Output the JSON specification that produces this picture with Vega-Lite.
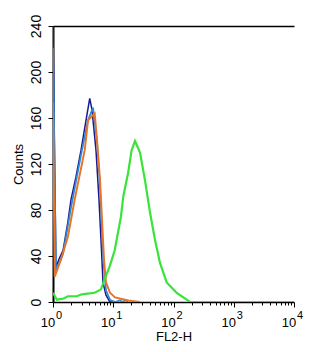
{
  "$schema": "https://vega.github.io/schema/vega-lite/v6.json",
  "autosize": {"type": "none"},
  "padding": {"left": 53, "top": 26, "right": 28, "bottom": 50},
  "width": 241,
  "height": 276,
  "config": {
    "view": {"stroke": null},
    "font": "Liberation Sans",
    "axis": {"labelFont": "Liberation Sans", "titleFont": "Liberation Sans", "labelColor": "#000", "titleColor": "#000", "domainColor": "#000", "tickColor": "#000", "grid": false, "titleFontWeight": "normal", "labelFontSize": 13, "titleFontSize": 13}
  },
  "data": {"values": [
    {"s": "navy", "x": 1.0, "c": 240},
    {"s": "navy", "x": 1.12, "c": 30},
    {"s": "navy", "x": 1.25, "c": 37},
    {"s": "navy", "x": 1.47, "c": 45},
    {"s": "navy", "x": 1.77, "c": 70},
    {"s": "navy", "x": 1.99, "c": 89},
    {"s": "navy", "x": 2.41, "c": 109},
    {"s": "navy", "x": 2.92, "c": 132},
    {"s": "navy", "x": 3.53, "c": 158},
    {"s": "navy", "x": 4.07, "c": 177},
    {"s": "navy", "x": 4.44, "c": 167},
    {"s": "navy", "x": 5.17, "c": 132},
    {"s": "navy", "x": 5.8, "c": 89},
    {"s": "navy", "x": 6.26, "c": 54},
    {"s": "navy", "x": 6.76, "c": 17},
    {"s": "navy", "x": 7.58, "c": 6},
    {"s": "navy", "x": 8.83, "c": 0},
    {"s": "navy", "x": 10, "c": 0},
    {"s": "light", "x": 1.0, "c": 221},
    {"s": "light", "x": 1.12, "c": 27},
    {"s": "light", "x": 1.47, "c": 42},
    {"s": "light", "x": 1.99, "c": 82},
    {"s": "light", "x": 2.92, "c": 128},
    {"s": "light", "x": 3.81, "c": 158},
    {"s": "light", "x": 4.61, "c": 169},
    {"s": "light", "x": 5.37, "c": 140},
    {"s": "light", "x": 6.03, "c": 100},
    {"s": "light", "x": 6.76, "c": 40},
    {"s": "light", "x": 7.58, "c": 10},
    {"s": "light", "x": 8.83, "c": 2},
    {"s": "light", "x": 10.7, "c": 0},
    {"s": "light", "x": 13, "c": 1.5},
    {"s": "light", "x": 14, "c": 0},
    {"s": "light", "x": 16, "c": 1.5},
    {"s": "light", "x": 17.5, "c": 0},
    {"s": "orange", "x": 1.0, "c": 173},
    {"s": "orange", "x": 1.067, "c": 22},
    {"s": "orange", "x": 1.36, "c": 37},
    {"s": "orange", "x": 1.77, "c": 57},
    {"s": "orange", "x": 2.29, "c": 89},
    {"s": "orange", "x": 3.36, "c": 132},
    {"s": "orange", "x": 3.81, "c": 158},
    {"s": "orange", "x": 4.92, "c": 164},
    {"s": "orange", "x": 5.37, "c": 141},
    {"s": "orange", "x": 6.03, "c": 106},
    {"s": "orange", "x": 6.5, "c": 72},
    {"s": "orange", "x": 7.02, "c": 37},
    {"s": "orange", "x": 7.58, "c": 17},
    {"s": "orange", "x": 8.83, "c": 8},
    {"s": "orange", "x": 10.7, "c": 4},
    {"s": "orange", "x": 15.7, "c": 2},
    {"s": "orange", "x": 19.0, "c": 1},
    {"s": "orange", "x": 27.8, "c": 0},
    {"s": "green", "x": 1.0, "c": 8},
    {"s": "green", "x": 1.165, "c": 2},
    {"s": "green", "x": 1.5, "c": 3},
    {"s": "green", "x": 1.77, "c": 5},
    {"s": "green", "x": 2.5, "c": 5},
    {"s": "green", "x": 2.92, "c": 6.5},
    {"s": "green", "x": 3.5, "c": 7},
    {"s": "green", "x": 4.92, "c": 8},
    {"s": "green", "x": 6.26, "c": 11},
    {"s": "green", "x": 7.21, "c": 20},
    {"s": "green", "x": 8.73, "c": 31},
    {"s": "green", "x": 10.57, "c": 45},
    {"s": "green", "x": 13.4, "c": 74},
    {"s": "green", "x": 14.7, "c": 92},
    {"s": "green", "x": 17.6, "c": 112},
    {"s": "green", "x": 20.2, "c": 132},
    {"s": "green", "x": 22.96, "c": 140},
    {"s": "green", "x": 27.8, "c": 130},
    {"s": "green", "x": 33.6, "c": 106},
    {"s": "green", "x": 40.7, "c": 78},
    {"s": "green", "x": 49.3, "c": 54},
    {"s": "green", "x": 59.7, "c": 34},
    {"s": "green", "x": 77.1, "c": 17},
    {"s": "green", "x": 113, "c": 8},
    {"s": "green", "x": 165.6, "c": 2},
    {"s": "green", "x": 188, "c": 0},
    {"s": "green", "x": 10000, "c": 0}
  ]},
  "resolve": {"axis": {"x": "independent"}},
  "layer": [
    {
      "mark": {"type": "line", "clip": true, "strokeJoin": "miter"},
      "encoding": {
        "x": {"field": "x", "type": "quantitative",
          "scale": {"type": "log", "domain": [1, 10000], "nice": false},
          "axis": {"orient": "bottom", "title": "FL2-H", "titlePadding": 1,
            "values": [1,2,3,4,5,6,7,8,9,10,20,30,40,50,60,70,80,90,100,200,300,400,500,600,700,800,900,1000,2000,3000,4000,5000,6000,7000,8000,9000,10000],
            "labelExpr": "indexof([1,10,100,1000,10000], datum.value) >= 0 ? '10' : ''",
            "labelOverlap": false, "labelPadding": 9, "labelFlush": false, "labelOffset": -5.5,
            "tickSize": {"condition": {"test": "indexof([1,10,100,1000,10000], datum.value) >= 0", "value": 5}, "value": 3},
            "domainWidth": 1.5, "tickWidth": 1}},
        "y": {"field": "c", "type": "quantitative",
          "scale": {"domain": [0, 240], "nice": false},
          "axis": {"title": "Counts", "titlePadding": 4,
            "values": [0,10,20,30,40,50,60,70,80,90,100,110,120,130,140,150,160,170,180,190,200,210,220,230,240],
            "labelExpr": "datum.value % 40 == 0 ? datum.label : ''",
            "labelAngle": -90, "labelAlign": "center", "labelBaseline": "bottom",
            "labelOverlap": false, "labelPadding": 5, "labelFontSize": 14,
            "tickSize": {"condition": {"test": "datum.value % 40 == 0", "value": 5}, "value": 4},
            "domainWidth": 2, "tickWidth": 1}},
        "color": {"field": "s", "type": "nominal",
          "scale": {"domain": ["navy", "light", "orange", "green"], "range": ["#1a1a8e", "#2b8ad8", "#e8742a", "#38e438"]},
          "legend": null},
        "order": {"field": "x", "type": "quantitative"},
        "strokeWidth": {"field": "s", "type": "nominal",
          "scale": {"domain": ["navy", "light", "orange", "green"], "range": [1.5, 2.2, 3.4, 2.6]},
          "legend": null}
      }
    },
    {
      "mark": {"type": "line", "opacity": 0},
      "encoding": {
        "x": {"field": "x", "type": "quantitative",
          "axis": {"orient": "bottom", "title": null, "domain": false, "ticks": false, "tickSize": 0,
            "values": [1, 10, 100, 1000, 10000],
            "labelExpr": "'' + round(log(datum.value)/LN10)",
            "labelFontSize": 11, "labelOffset": 5.5, "labelPadding": 7, "labelOverlap": false, "labelFlush": false}},
        "y": {"field": "c", "type": "quantitative"}
      }
    },
    {
      "mark": {"type": "line", "opacity": 0},
      "encoding": {
        "x": {"field": "x", "type": "quantitative",
          "axis": {"orient": "top", "title": null, "labels": false, "ticks": false, "domainWidth": 1.5}},
        "y": {"field": "c", "type": "quantitative"}
      }
    }
  ]
}
